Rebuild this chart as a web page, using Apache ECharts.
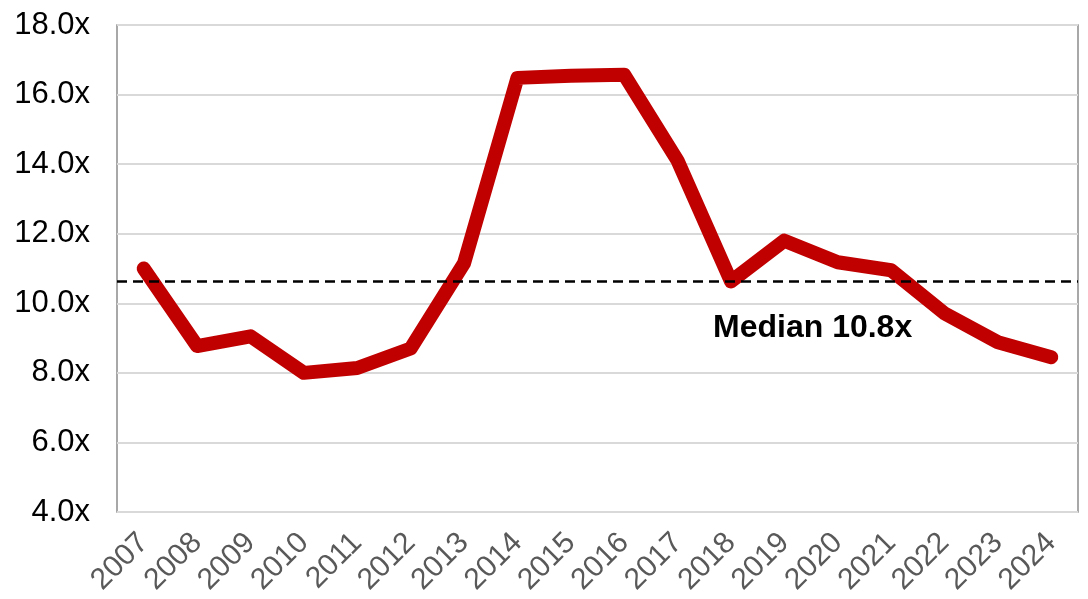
<!DOCTYPE html>
<html>
<head>
<meta charset="utf-8">
<script src="https://cdn.jsdelivr.net/npm/echarts@6/dist/echarts.min.js"></script>
<style>
  html, body { margin: 0; padding: 0; background: #fff; }
  #chart { width: 1088px; height: 599px; }
</style>
</head>
<body>
<div id="chart"></div>
<script>
// data
const years = ['2007','2008','2009','2010','2011','2012','2013','2014','2015','2016','2017','2018','2019','2020','2021','2022','2023','2024'];
const multiples = [11.0, 8.77, 9.05, 8.0, 8.14, 8.7, 11.15, 16.48, 16.54, 16.57, 14.1, 10.63, 11.8, 11.18, 10.95, 9.71, 8.88, 8.45];
const medianLevel = 10.63;
const medianText = 'Median 10.8x';

const chart = echarts.init(document.getElementById('chart'));

chart.setOption({
    backgroundColor: '#fff',
    animation: false,
    grid: {
        left: 117, right: 10, top: 25, bottom: 87,
        show: true, borderColor: '#8c8c8c', borderWidth: 1.5
    },
    xAxis: {
        type: 'category',
        data: years,
        boundaryGap: true,
        axisLine: { show: false },
        axisTick: { show: false },
        axisLabel: {
            interval: 0, hideOverlap: false,
            rotate: 45, margin: 26,
            color: '#595959', fontSize: 30, fontFamily: 'Liberation Sans, Arial'
        }
    },
    yAxis: {
        type: 'value',
        min: 4, max: 18, interval: 2,
        axisLine: { show: false },
        axisTick: { show: false },
        splitLine: { lineStyle: { color: '#d9d9d9', width: 2 } },
        axisLabel: {
            margin: 27,
            color: '#000', fontSize: 31, fontFamily: 'Liberation Sans, Arial',
            formatter: v => v.toFixed(1) + 'x'
        }
    },
    series: [{
        type: 'line',
        data: multiples,
        symbol: 'none',
        lineStyle: { color: '#c00000', width: 14, cap: 'round', join: 'round' },
        markLine: {
            silent: true,
            symbol: 'none',
            label: { show: false },
            lineStyle: { color: '#000', type: [10, 6], width: 2.5 },
            data: [{ yAxis: medianLevel }]
        },
        z: 3
    }],
    graphic: [{
        type: 'text',
        left: 713, top: 312,
        style: {
            text: medianText,
            font: 'bold 32px "Liberation Sans", Arial',
            fill: '#000'
        }
    }]
});
</script>
</body>
</html>
